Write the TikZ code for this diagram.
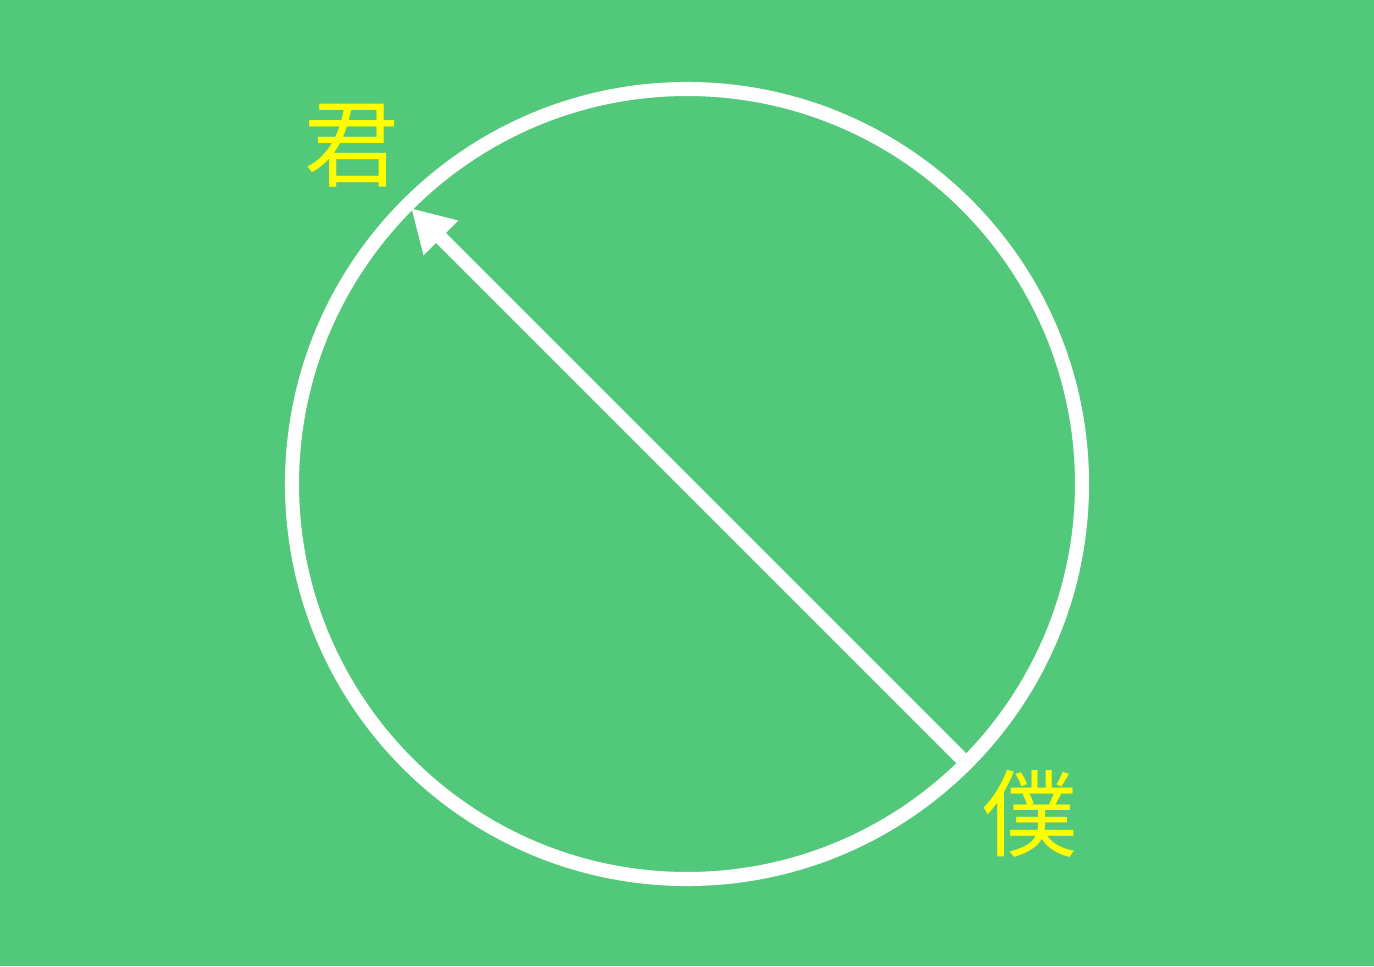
\documentclass[tikz,border=0pt]{standalone}
\usepackage{fontspec}
\usepackage{tikz}
\usepackage{xcolor}
\usetikzlibrary{arrows.meta, calc}
\newfontfamily\cjk{Noto Sans CJK JP}
\definecolor{bggreen}{HTML}{52C97A}
\definecolor{nameyellow}{HTML}{FFFF00}
\tikzset{
  ring/.style={draw=white, line width=4pt},
  pointer/.style={white, line width=4pt, -{Triangle[length=0.42cm, width=0.46cm]}},
  who/.style={text=nameyellow, font=\cjk\fontsize{27}{27}\selectfont, inner sep=0pt}
}
\begin{document}
\begin{tikzpicture}
        % Background
        \fill[bggreen] (0,0) rectangle (13.74,9.66);
        \useasboundingbox (0,0) rectangle (13.74,9.66);
        
        % Define points
        \coordinate (O) at (6.87,4.82);
        \coordinate (boku) at ($(O)+(-45:3.88)$);
        \coordinate (kimi) at ($(O)+(135:3.9)$);
        
        % Draw the circle
        \draw[ring] (O) circle (3.95);
        
        % Draw the arrow
        \draw[pointer] (boku) -- (kimi);
        
        % Label the ends
        \node[who] (kimilabel) at (3.52,8.2) {君};
        \node[who] (bokulabel) at (10.30,1.52) {僕};
        
    \end{tikzpicture}
\end{document}
